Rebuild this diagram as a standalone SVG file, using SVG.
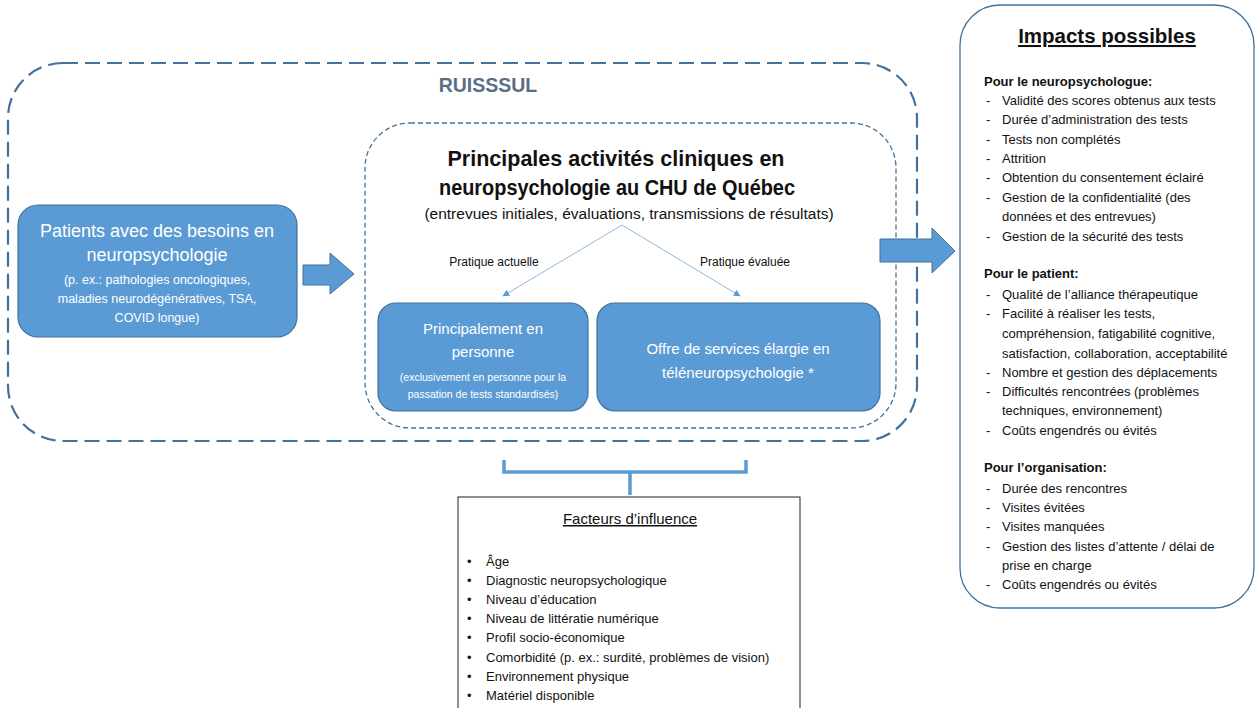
<svg xmlns="http://www.w3.org/2000/svg" width="1255" height="708" viewBox="0 0 1255 708">
<defs>
<style>
.t{font-family:"Liberation Sans",Arial,sans-serif;}
.w{fill:#fff;}
.k{fill:#111;}
.box{fill:#5b9bd5;stroke:#41719c;stroke-width:1.2;}
.it{font-size:13px;fill:#111;}
.hd{font-size:13px;font-weight:bold;fill:#111;}
</style>
<marker id="ah" viewBox="0 0 10 10" refX="9" refY="5" markerWidth="7" markerHeight="7" orient="auto-start-reverse">
<path d="M0,0 L10,5 L0,10 z" fill="#5b9bd5"/>
</marker>
</defs>
<rect width="1255" height="708" fill="#fff"/>

<g id="ruisssul">
<rect x="8" y="63" width="909" height="378" rx="55" fill="none" stroke="#41719c" stroke-width="2.2" stroke-dasharray="15 7"/>
<text class="t" x="488" y="92" text-anchor="middle" font-size="19.5" font-weight="bold" fill="#5a6e86">RUISSSUL</text>
</g>

<g id="activites">
<rect x="365" y="123" width="531" height="305" rx="45" fill="none" stroke="#41719c" stroke-width="1.3" stroke-dasharray="5 3"/>
<text class="t k" x="616" y="166" text-anchor="middle" font-size="21.5" font-weight="bold">Principales activités cliniques en</text>
<text class="t k" x="617" y="195" text-anchor="middle" font-size="21.5" font-weight="bold" textLength="356" lengthAdjust="spacingAndGlyphs">neuropsychologie au CHU de Québec</text>
<text class="t k" x="629" y="219" text-anchor="middle" font-size="15.5">(entrevues initiales, évaluations, transmissions de résultats)</text>
<text class="t k" x="494" y="266" text-anchor="middle" font-size="12">Pratique actuelle</text>
<text class="t k" x="745" y="266" text-anchor="middle" font-size="12">Pratique évaluée</text>
</g>

<g id="patients">
<rect class="box" x="18" y="205" width="279" height="132" rx="20"/>
<text class="t w" x="157" y="237" text-anchor="middle" font-size="18">Patients avec des besoins en</text>
<text class="t w" x="157" y="261" text-anchor="middle" font-size="18">neuropsychologie</text>
<text class="t w" x="157" y="284" text-anchor="middle" font-size="12.5">(p. ex.: pathologies  oncologiques,</text>
<text class="t w" x="157" y="303" text-anchor="middle" font-size="12.5">maladies  neurodégénératives,  TSA,</text>
<text class="t w" x="157" y="322" text-anchor="middle" font-size="12.5">COVID longue)</text>
</g>

<g id="personne">
<rect class="box" x="378" y="303" width="210" height="108" rx="18"/>
<text class="t w" x="483" y="334" text-anchor="middle" font-size="15">Principalement  en</text>
<text class="t w" x="483" y="357" text-anchor="middle" font-size="15">personne</text>
<text class="t w" x="483" y="381" text-anchor="middle" font-size="10.5">(exclusivement en personne pour la</text>
<text class="t w" x="483" y="398" text-anchor="middle" font-size="10.5">passation de tests standardisés)</text>
</g>

<g id="tele">
<rect class="box" x="597" y="303" width="283" height="108" rx="18"/>
<text class="t w" x="738" y="354" text-anchor="middle" font-size="15">Offre de services  élargie en</text>
<text class="t w" x="738" y="378" text-anchor="middle" font-size="15">téléneuropsychologie  *</text>
</g>

<g id="impacts">
<rect x="960" y="5" width="294" height="603" rx="40" fill="#fff" stroke="#41719c" stroke-width="1.3"/>
<text class="t k" x="1107" y="43" text-anchor="middle" font-size="20.5" font-weight="bold" text-decoration="underline">Impacts possibles</text>
<text class="t hd" x="984" y="86">Pour le neuropsychologue:</text>
<g class="t it">
<text x="986" y="105">-</text><text x="1002" y="105">Validité des scores obtenus aux tests</text>
<text x="986" y="124">-</text><text x="1002" y="124">Durée d’administration  des tests</text>
<text x="986" y="144">-</text><text x="1002" y="144">Tests non complétés</text>
<text x="986" y="163">-</text><text x="1002" y="163">Attrition</text>
<text x="986" y="182">-</text><text x="1002" y="182">Obtention du consentement  éclairé</text>
<text x="986" y="202">-</text><text x="1002" y="202">Gestion de la confidentialité  (des</text>
<text x="1002" y="221">données  et des entrevues)</text>
<text x="986" y="241">-</text><text x="1002" y="241">Gestion de la sécurité des tests</text>
</g>
<text class="t hd" x="984" y="278">Pour le patient:</text>
<g class="t it">
<text x="986" y="299">-</text><text x="1002" y="299">Qualité de l’alliance  thérapeutique</text>
<text x="986" y="318">-</text><text x="1002" y="318">Facilité à réaliser les tests,</text>
<text x="1002" y="338">compréhension,  fatigabilité  cognitive,</text>
<text x="1002" y="358">satisfaction, collaboration,  acceptabilité</text>
<text x="986" y="377">-</text><text x="1002" y="377">Nombre et gestion des déplacements</text>
<text x="986" y="396">-</text><text x="1002" y="396">Difficultés rencontrées (problèmes</text>
<text x="1002" y="415">techniques,  environnement)</text>
<text x="986" y="435">-</text><text x="1002" y="435">Coûts engendrés  ou évités</text>
</g>
<text class="t hd" x="984" y="472">Pour l’organisation:</text>
<g class="t it">
<text x="986" y="493">-</text><text x="1002" y="493">Durée des rencontres</text>
<text x="986" y="512">-</text><text x="1002" y="512">Visites évitées</text>
<text x="986" y="531">-</text><text x="1002" y="531">Visites manquées</text>
<text x="986" y="551">-</text><text x="1002" y="551">Gestion des listes d’attente / délai de</text>
<text x="1002" y="570">prise en charge</text>
<text x="986" y="589">-</text><text x="1002" y="589">Coûts engendrés  ou évités</text>
</g>
</g>

<g id="facteurs">
<rect x="458" y="497" width="342" height="215" fill="#fff" stroke="#222" stroke-width="1"/>
<text class="t k" x="630" y="524" text-anchor="middle" font-size="15" text-decoration="underline">Facteurs d’influence</text>
<g class="t it">
<text x="467" y="566">•</text><text x="486" y="566">Âge</text>
<text x="467" y="585">•</text><text x="486" y="585">Diagnostic neuropsychologique</text>
<text x="467" y="604">•</text><text x="486" y="604">Niveau  d’éducation</text>
<text x="467" y="623">•</text><text x="486" y="623">Niveau  de littératie numérique</text>
<text x="467" y="642">•</text><text x="486" y="642">Profil socio-économique</text>
<text x="467" y="662">•</text><text x="486" y="662">Comorbidité  (p. ex.: surdité, problèmes  de vision)</text>
<text x="467" y="681">•</text><text x="486" y="681">Environnement  physique</text>
<text x="467" y="700">•</text><text x="486" y="700">Matériel disponible</text>
</g>
</g>

<g id="connectors">
<path d="M303,265 H330 V253 L354,274 L330,294 V285 H303 z" fill="#5b9bd5" stroke="#41719c" stroke-width="1"/>
<path d="M880,239 H932 V228 L955,251 L932,273 V262 H880 z" fill="#5b9bd5" stroke="#41719c" stroke-width="1"/>
<line x1="622" y1="225" x2="503" y2="296" stroke="#8fb8e0" stroke-width="1" marker-end="url(#ah)"/>
<line x1="622" y1="225" x2="740" y2="296" stroke="#8fb8e0" stroke-width="1" marker-end="url(#ah)"/>
<path d="M504,460 V472 H746 V460 M630,472 V495" fill="none" stroke="#5b9bd5" stroke-width="3.5"/>
</g>
</svg>
